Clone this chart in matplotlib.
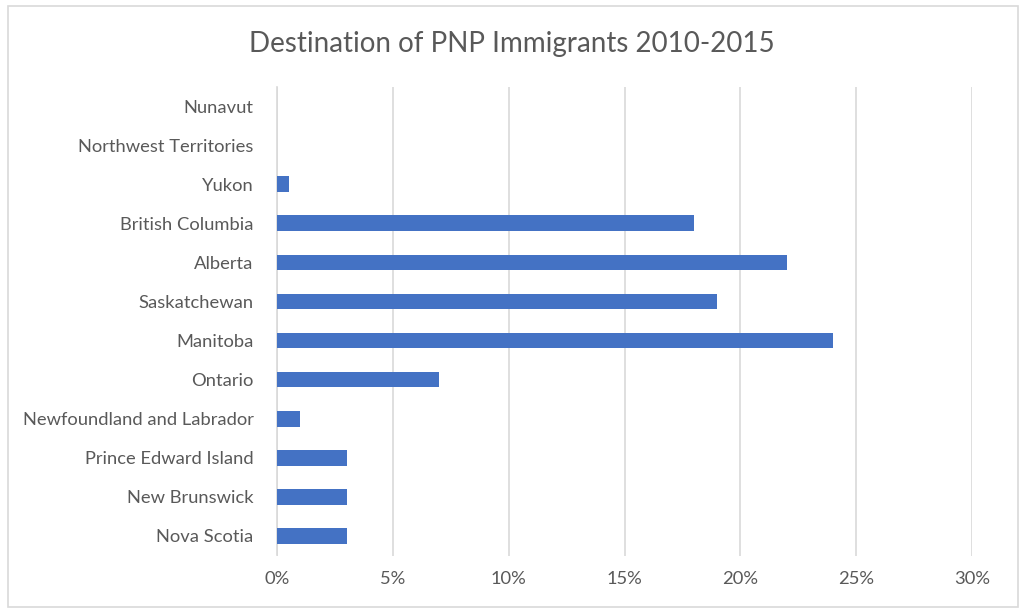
import matplotlib.pyplot as plt
from matplotlib.patches import Rectangle
from matplotlib.ticker import PercentFormatter

# Data (bottom to top as in the chart)
provinces = ["Nova Scotia", "New Brunswick", "Prince Edward Island",
             "Newfoundland and Labrador", "Ontario", "Manitoba",
             "Saskatchewan", "Alberta", "British Columbia", "Yukon",
             "Northwest Territories", "Nunavut"]
share = [3, 3, 3, 1, 7, 24, 19, 22, 18, 0.5, 0, 0]
x_ticks = [0, 5, 10, 15, 20, 25, 30]

text_color = "#595959"
plt.rcParams['font.family'] = ['Lato', 'DejaVu Sans']

fig = plt.figure(figsize=(10.24, 6.15), dpi=100)
ax = fig.add_axes([277 / 1024, 1 - 555.5 / 615, (972 - 277) / 1024, (555.5 - 86.5) / 615])

ax.barh(range(len(provinces)), share, height=0.4, color="#4472C4", zorder=3)

ax.set_xlim(0, 30)
ax.set_ylim(-0.5, len(provinces) - 0.5)
ax.set_xticks(x_ticks)
ax.xaxis.set_major_formatter(PercentFormatter(decimals=0))
ax.set_yticks(range(len(provinces)))
ax.set_yticklabels(provinces)
ax.tick_params(axis='both', length=0, labelsize=13.2, colors=text_color)
ax.tick_params(axis='x', pad=11)
ax.tick_params(axis='y', pad=17)
ax.grid(axis='x', color="#D9D9D9", linewidth=1.2, zorder=0)
for s in ["top", "right", "bottom"]:
    ax.spines[s].set_visible(False)
ax.spines["left"].set_color("#D9D9D9")
ax.spines["left"].set_linewidth(1.2)

fig.text(0.5, 1 - 44 / 615, "Destination of PNP Immigrants 2010-2015",
         ha='center', va='center', fontsize=20, color=text_color)

# chart border
fig.patches.append(Rectangle((8 / 1024, 1 - 607 / 615), (1018 - 8) / 1024, (607 - 6) / 615,
                             transform=fig.transFigure, fill=False,
                             edgecolor="#D9D9D9", linewidth=1.2))

fig.savefig("out.png", dpi=100)
